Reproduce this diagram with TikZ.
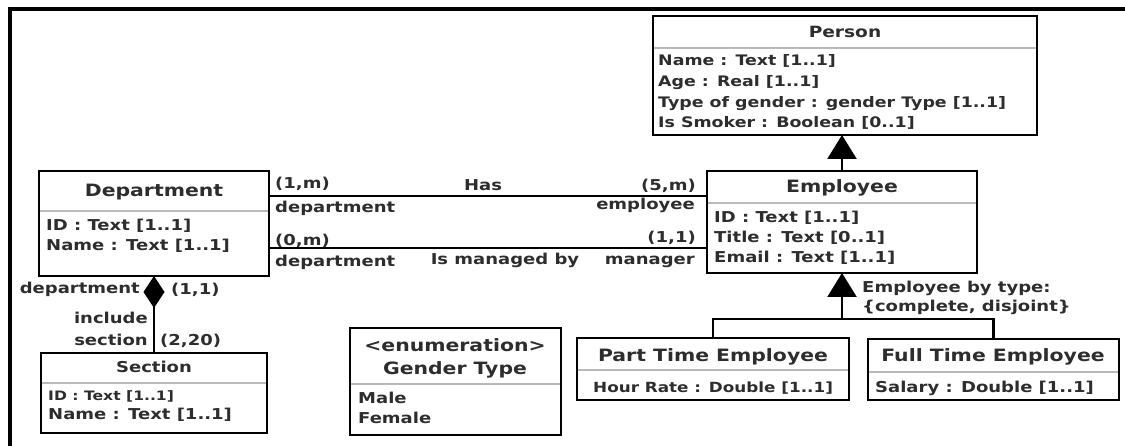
\documentclass[tikz,border=0pt]{standalone}
\usepackage{fontspec}
\usetikzlibrary{arrows.meta}
\newfontfamily\umlfont{DejaVu Sans Bold}[FakeStretch=1.2]
\definecolor{txt}{RGB}{45,45,45}
\definecolor{sepc}{RGB}{185,185,185}
\tikzset{
  cls/.style={draw=black, line width=2.5pt, fill=white, inner sep=0pt, outer sep=0pt, anchor=north west},
  sepl/.style={draw=sepc, line width=1.2pt, shorten <=1.2pt, shorten >=1.2pt},
  fs/.style={font=\umlfont\fontsize{#1}{#1}\selectfont, text=txt, inner sep=0pt},
  ttl/.style={fs=#1, anchor=base},
  ttl/.default=17,
  att/.style={fs=#1, anchor=base west},
  att/.default=15,
  lbl/.style={fs=15, anchor=base west},
  lble/.style={fs=15, anchor=base east},
  lblc/.style={fs=15, anchor=base},
  assoc/.style={draw=black, line width=2pt},
  genl/.style={draw=black, line width=2.5pt},
  gen/.style={genl, -{Triangle[width=29pt,length=24pt]}},
  comp/.style={draw=black, line width=2.5pt, -{Diamond[width=21pt,length=32pt]}}
}
\begin{document}
\begin{tikzpicture}[x=1pt,y=-1pt]
\useasboundingbox (0,0) rectangle (1125,446);
% frame
\draw[line width=3.5pt] (10,446) -- (10,9) -- (1125,9);

% Department
\node[cls, minimum width=230pt, minimum height=105pt] (dept) at (39,171) {};
\draw[sepl] (dept.west |- 0,211) -- (dept.east |- 0,211);
\node[ttl] (deptT) at (154,197) {Department};
\node[att] (deptA1) at (46,231) {ID : Text [1..1]};
\node[att] (deptA2) at (46,251) {Name : Text [1..1]};

% Section
\node[cls, minimum width=226pt, minimum height=80pt] (sec) at (41,353) {};
\draw[sepl] (sec.west |- 0,383) -- (sec.east |- 0,383);
\node[ttl=15] (secT) at (154,373) {Section};
\node[att=13] (secA1) at (48,400) {ID : Text [1..1]};
\node[att] (secA2) at (48,419) {Name : Text [1..1]};

% Person
\node[cls, minimum width=384pt, minimum height=119pt] (person) at (653,16) {};
\draw[sepl] (person.west |- 0,48) -- (person.east |- 0,48);
\node[ttl=15.5] (personT) at (845,38) {Person};
\node[att=14.5] (personA1) at (658,66) {Name : Text [1..1]};
\node[att=14.5] (personA2) at (658,87) {Age : Real [1..1]};
\node[att=14.5] (personA3) at (658,108) {Type of gender : gender Type [1..1]};
\node[att=14.5] (personA4) at (658,128) {Is Smoker : Boolean [0..1]};

% Employee
\node[cls, minimum width=270pt, minimum height=102pt] (emp) at (707,171) {};
\draw[sepl] (emp.west |- 0,203) -- (emp.east |- 0,203);
\node[ttl] (empT) at (842,193) {Employee};
\node[att] (empA1) at (714,223) {ID : Text [1..1]};
\node[att] (empA2) at (714,243) {Title : Text [0..1]};
\node[att] (empA3) at (714,263) {Email : Text [1..1]};

% Part Time Employee
\node[cls, minimum width=272pt, minimum height=62pt] (part) at (577,338) {};
\draw[sepl] (part.west |- 0,370) -- (part.east |- 0,370);
\node[ttl] (partT) at (713,362) {Part Time Employee};
\node[att=14] (partA1) at (593,392) {Hour Rate : Double [1..1]};

% Full Time Employee
\node[cls, minimum width=251pt, minimum height=61pt] (full) at (868,339) {};
\draw[sepl] (full.west |- 0,372) -- (full.east |- 0,372);
\node[ttl] (fullT) at (993,362) {Full Time Employee};
\node[att] (fullA1) at (875,392) {Salary : Double [1..1]};

% Enumeration
\node[cls, minimum width=211pt, minimum height=107pt] (enum) at (350,328) {};
\draw[sepl] (enum.west |- 0,384) -- (enum.east |- 0,384);
\node[ttl] (enumT1) at (455,352) {<enumeration>};
\node[ttl] (enumT2) at (455,374) {Gender Type};
\node[att] (enumA1) at (358,403) {Male};
\node[att] (enumA2) at (358,423) {Female};

% Associations
\coordinate (hasY) at (0,196);
\coordinate (mgrY) at (0,248);
\draw[assoc] (dept.east |- hasY) -- (emp.west |- hasY);
\draw[assoc] (dept.east |- mgrY) -- (emp.west |- mgrY);
\node[lbl] (l1) at (275,189) {(1,m)};
\node[lbl] (l2) at (275,213) {department};
\node[lbl] (l3) at (275,246) {(0,m)};
\node[lbl] (l4) at (275,267) {department};
\node[lblc] (l5) at (483,191) {Has};
\node[lble] (l6) at (696,191) {(5,m)};
\node[lble] (l7) at (695,210) {employee};
\node[lble] (l8) at (696,243) {(1,1)};
\node[lblc] (l9) at (505,265) {Is managed by};
\node[lble] (l10) at (695,265) {manager};

% Composition
\draw[comp] (sec.north) -- (dept.south);
\node[lble] (c1) at (140,294) {department};
\node[lbl] (c2) at (171,295) {(1,1)};
\node[lble] (c3) at (148,324) {include};
\node[lble] (c4) at (148,346) {section};
\node[lbl] (c5) at (160,346) {(2,20)};

% Generalization Person <- Employee
\draw[gen] (emp.north) -- (emp.north |- person.south);

% Generalization Employee <- Part/Full
\coordinate (gj) at (842,319);
\draw[genl] (part.north) -- (part.north |- gj) -- (full.north |- gj) -- (full.north);
\draw[gen] (gj) -- (emp.south);
\node[lbl] (g1) at (862,293) {Employee by type:};
\node[lbl] (g2) at (862,312) {\{complete, disjoint\}};
\end{tikzpicture}
\end{document}
